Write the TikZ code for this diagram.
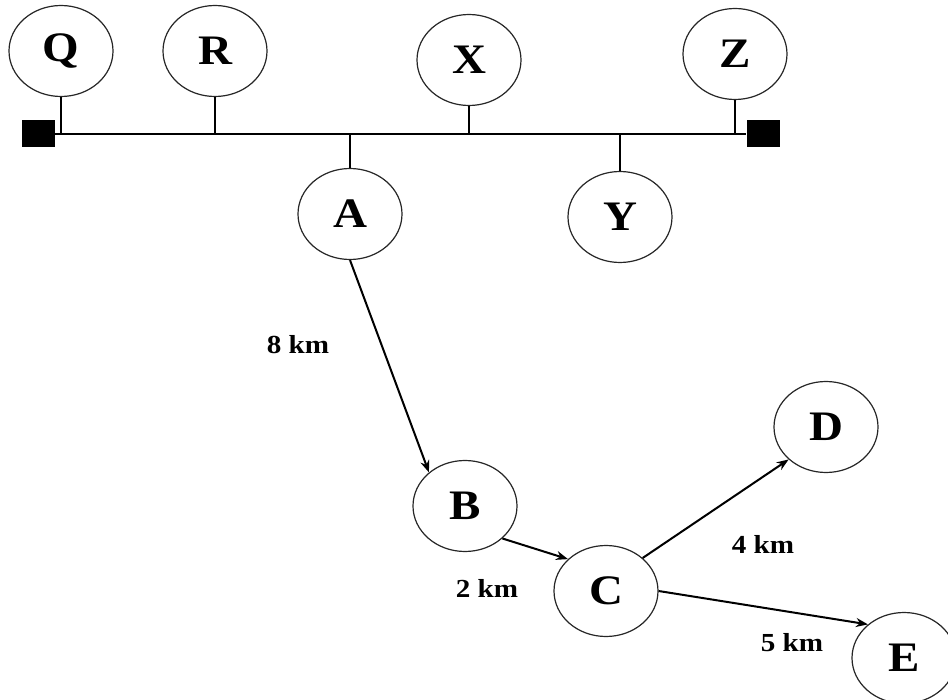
\documentclass[tikz,border=0pt]{standalone}
\usepackage{fontspec}
\setmainfont{Liberation Serif}
\newfontfamily\labfont{Liberation Serif}[FakeStretch=1.12]
\usetikzlibrary{shapes.geometric,arrows.meta}
\tikzset{
  station/.style={ellipse, draw=black!85, line width=1.2pt, minimum width=104pt, minimum height=91pt, inner sep=0pt, font=\labfont\bfseries\fontsize{42}{42}\selectfont},
  term/.style={fill=black, minimum width=33pt, minimum height=27pt, inner sep=0pt},
  bus/.style={line width=2.3pt},
  tick/.style={line width=2.6pt},
  link/.style={line width=2pt, -{Stealth[length=12pt,width=9pt]}},
  dist/.style={font=\labfont\bfseries\fontsize{26}{26}\selectfont, inner sep=0pt}
}
\begin{document}
\begin{tikzpicture}[x=1pt,y=-1pt]
\useasboundingbox (0,0) rectangle (948,700);
% terminals and bus
\node[term] (L) at (38.5,134) {};
\node[term] (Rt) at (763,134) {};
\draw[bus] (L) -- (Rt);
% stations
\node[station] (Q) at (61,51) {Q};
\node[station] (R) at (215,51) {R};
\node[station] (X) at (469,60) {X};
\node[station] (Z) at (735,54) {Z};
\node[station] (A) at (350,214) {A};
\node[station] (Y) at (620,217) {Y};
\node[station] (B) at (465,506) {B};
\node[station] (C) at (606,591) {C};
\node[station] (D) at (826,427) {D};
\node[station] (E) at (904,658) {E};
% taps
\draw[tick] (Q.south) -- (Q.south |- L.center);
\draw[tick] (R.south) -- (R.south |- L.center);
\draw[tick] (X.south) -- (X.south |- L.center);
\draw[tick] (Z.south) -- (Z.south |- L.center);
\draw[tick] (A.north) -- (A.north |- L.center);
\draw[tick] (Y.north) -- (Y.north |- L.center);
% links
\draw[link] (A.south) -- (B.137);
\draw[link] (B.-41) -- (C.140);
\draw[link] (C.42) -- (D.221);
\draw[link] (C.0) -- (E.137);
% distances
\node[dist] (d8) at (298,345) {8 km};
\node[dist] (d2) at (487,588) {2 km};
\node[dist] (d4) at (763,544) {4 km};
\node[dist] (d5) at (792,643) {5 km};
\end{tikzpicture}
\end{document}
